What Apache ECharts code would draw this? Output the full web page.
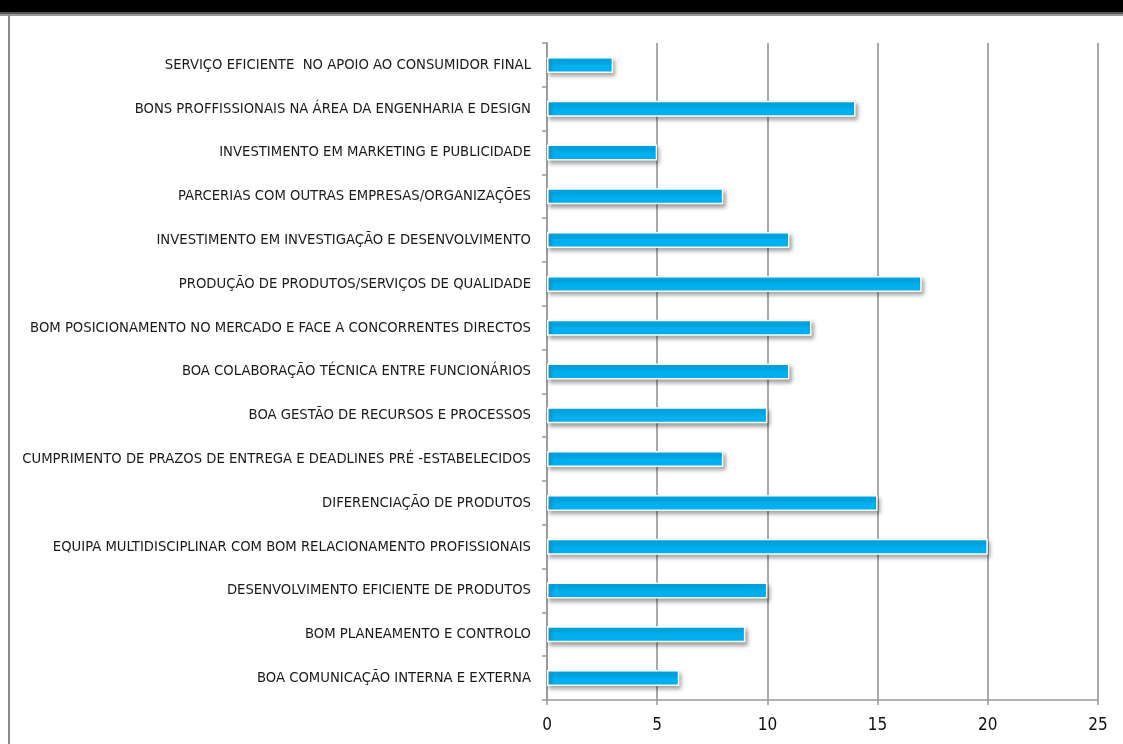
<!DOCTYPE html>
<html>
<head>
<meta charset="utf-8">
<script src="https://cdn.jsdelivr.net/npm/echarts@6/dist/echarts.min.js"></script>
<style>
  html, body { margin: 0; padding: 0; background: #fff; }
  #chart { width: 1123px; height: 744px; }
</style>
</head>
<body>
<div id="chart"></div>
<script>
// Factors, listed top to bottom
const categories = [
  'SERVIÇO EFICIENTE  NO APOIO AO CONSUMIDOR FINAL',
  'BONS PROFFISSIONAIS NA ÁREA DA ENGENHARIA E DESIGN',
  'INVESTIMENTO EM MARKETING E PUBLICIDADE',
  'PARCERIAS COM OUTRAS EMPRESAS/ORGANIZAÇÕES',
  'INVESTIMENTO EM INVESTIGAÇÃO E DESENVOLVIMENTO',
  'PRODUÇÃO DE PRODUTOS/SERVIÇOS DE QUALIDADE',
  'BOM POSICIONAMENTO NO MERCADO E FACE A CONCORRENTES DIRECTOS',
  'BOA COLABORAÇÃO TÉCNICA ENTRE FUNCIONÁRIOS',
  'BOA GESTÃO DE RECURSOS E PROCESSOS',
  'CUMPRIMENTO DE PRAZOS DE ENTREGA E DEADLINES PRÉ -ESTABELECIDOS',
  'DIFERENCIAÇÃO DE PRODUTOS',
  'EQUIPA MULTIDISCIPLINAR COM BOM RELACIONAMENTO PROFISSIONAIS',
  'DESENVOLVIMENTO EFICIENTE DE PRODUTOS',
  'BOM PLANEAMENTO E CONTROLO',
  'BOA COMUNICAÇÃO INTERNA E EXTERNA'
];
const values = [3, 14, 5, 8, 11, 17, 12, 11, 10, 8, 15, 20, 10, 9, 6];
const axisMin = 0;
const axisMax = 25;
const axisStep = 5;

const NARROW = '"DejaVu Sans Condensed", "DejaVu Sans", sans-serif';
const chart = echarts.init(document.getElementById('chart'), null, { renderer: 'canvas' });

chart.setOption({
  backgroundColor: '#ffffff',
  animation: false,
  graphic: [
    { type: 'rect', left: 0, top: 0, shape: { width: 1123, height: 12 }, style: { fill: '#000' }, z: 10 },
    { type: 'rect', left: 0, top: 12, shape: { width: 1123, height: 2 }, style: { fill: '#555' }, z: 10 },
    { type: 'rect', left: 0, top: 14, shape: { width: 1123, height: 2 }, style: { fill: '#999' }, z: 10 },
    { type: 'rect', left: 8, top: 15, shape: { width: 2, height: 729 }, style: { fill: '#888' }, z: 10 }
  ],
  grid: { left: 547, right: 25, top: 43, bottom: 44, containLabel: false, outerBoundsMode: 'none' },
  xAxis: {
    type: 'value',
    min: axisMin,
    max: axisMax,
    interval: axisStep,
    axisLine: { show: true, lineStyle: { color: '#999', width: 1.5 } },
    axisTick: { show: true, length: 5, lineStyle: { color: '#999', width: 1.5 } },
    splitLine: { show: true, lineStyle: { color: '#8c8c8c', width: 1.5 } },
    axisLabel: { color: '#111', fontFamily: NARROW, fontSize: 17, margin: 17 }
  },
  yAxis: {
    type: 'category',
    data: categories,
    inverse: true,
    axisLine: { show: true, lineStyle: { color: '#999', width: 1.5 } },
    axisTick: { show: true, length: 5, lineStyle: { color: '#999', width: 1.5 } },
    axisLabel: { color: '#1a1a1a', fontFamily: NARROW, fontSize: 14.7, margin: 16 }
  },
  series: [{
    type: 'bar',
    data: values,
    barWidth: 16,
    itemStyle: {
      color: '#00b0f0',
      borderColor: '#ffffff',
      borderWidth: 1.5,
      shadowColor: 'rgba(0,0,0,0.35)',
      shadowBlur: 4,
      shadowOffsetX: 2,
      shadowOffsetY: 3
    }
  }]
});
</script>
</body>
</html>
